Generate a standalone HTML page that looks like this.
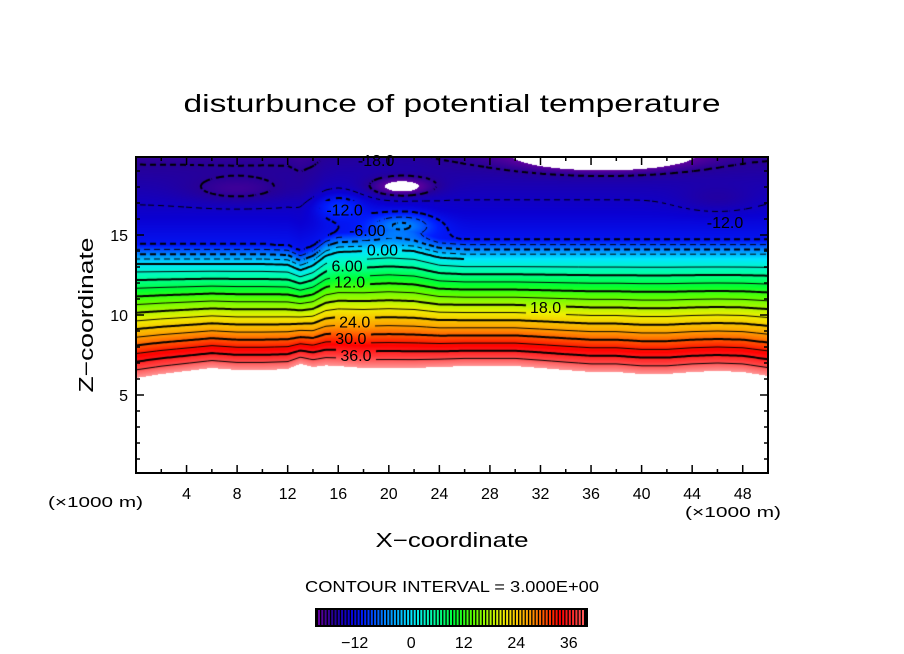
<!DOCTYPE html>
<html><head><meta charset="utf-8">
<style>
html,body{margin:0;padding:0;background:#fff;}
#wrap{position:relative;width:904px;height:654px;overflow:hidden;background:#fff;font-family:"Liberation Sans",sans-serif;}
#field{position:absolute;left:136px;top:157px;}
#ov{position:absolute;left:0;top:0;}
</style></head>
<body>
<div id="wrap">
<canvas id="field" width="632" height="316"></canvas>
<svg id="ov" width="904" height="654" xmlns="http://www.w3.org/2000/svg">
<text x="452" y="112" font-size="25" text-anchor="middle" textLength="537" lengthAdjust="spacingAndGlyphs">disturbunce of potential temperature</text>
<text transform="translate(93,315) rotate(-90)" font-size="20" text-anchor="middle" textLength="155" lengthAdjust="spacingAndGlyphs">Z−coordinate</text>
<text x="452" y="547" font-size="20" text-anchor="middle" textLength="153" lengthAdjust="spacingAndGlyphs">X−coordinate</text>
<text x="48" y="507" font-size="15" textLength="95" lengthAdjust="spacingAndGlyphs">(×1000 m)</text>
<text x="685" y="517" font-size="15" textLength="96" lengthAdjust="spacingAndGlyphs">(×1000 m)</text>
<text x="452" y="592" font-size="16" text-anchor="middle" textLength="294" lengthAdjust="spacingAndGlyphs">CONTOUR INTERVAL = 3.000E+00</text>
<g id="axes"></g>
<g id="labels"></g>
<g id="cbar"></g>
</svg>
</div>
<script>
// ---- data ----
const xNodes   = [0,2,4,6,8,10,12,13,14,15,16,18,20,22,24,26,28,30,32,34,36,38,40,42,44,46,48,50];
const groundZ  = [6.06,6.31,6.5,6.69,6.56,6.56,6.62,6.95,6.75,6.85,6.81,6.69,6.69,6.69,6.75,6.81,6.81,6.81,6.69,6.56,6.44,6.44,6.31,6.31,6.44,6.5,6.44,6.19];
const zeroZ    = [13.2,13.2,13.2,13.2,13.2,13.2,13.15,12.8,13.1,13.7,13.95,14.0,14.1,14.0,13.6,13.5,13.5,13.5,13.5,13.5,13.5,13.5,13.5,13.5,13.5,13.5,13.5,13.5];
const blobX    = [8,21,37,21,16,46];
const blobZ    = [17.8,18.0,19.9,15.6,16.8,17.2];
const blobAmp  = [-3,-7.5,-12,7,4,-2];
const blobSx   = [4,2.5,6,2.5,2,3];
const blobSz   = [0.8,0.6,0.8,0.7,0.8,0.8];
const cbarLevels = [-12,0,12,24,36];
const contourLevels = [-18,-15,-12,-9,-6,-3,0,3,6,9,12,15,18,21,24,27,30,33,36,39];
const labelText = ["-18.0","-12.0","-6.00","0.00","6.00","12.0","24.0","30.0","36.0","18.0","-12.0"];
const labelX    = [19.0,16.5,18.3,19.5,16.7,16.9,17.3,17.0,17.4,32.4,46.6];
const labelZ    = [19.7,16.6,15.3,14.1,13.1,12.1,9.6,8.55,7.5,10.5,15.8];
const xTickLabels = [4,8,12,16,20,24,28,32,36,40,44,48];
const yTickLabels = [5,10,15];

// ---- scales ----
const X0=136, XS=12.64, YB=475, ZS=16, PL=136, PT=157, PW=632, PH=316;
const sx = x => X0 + x*XS;
const sy = z => YB - z*ZS;
function interp(xa, ya, x){
  if(x<=xa[0]) return ya[0];
  for(let i=1;i<xa.length;i++){ if(x<=xa[i]){ const t=(x-xa[i-1])/(xa[i]-xa[i-1]); return ya[i-1]+t*(ya[i]-ya[i-1]); } }
  return ya[ya.length-1];
}
function field(x,z){
  const g=interp(xNodes,groundZ,x), z0=interp(xNodes,zeroZ,x);
  if(z<=z0) return 42*(z0-z)/(z0-g);
  const zm=z0+1.2;
  let t = z<zm ? -12*(z-z0)/1.2 : -12-1.2*(z-zm);
  const w=Math.min(1,(z-z0)/1.0);
  for(let i=0;i<blobX.length;i++){
    const dx=(x-blobX[i])/blobSx[i], dz=(z-blobZ[i])/blobSz[i];
    t += w*blobAmp[i]*Math.exp(-(dx*dx+dz*dz));
  }
  return t;
}
const cmV=[-22,-18,-14,-11,-6,0,5,10,14,21,27,31,34,38,42];
const cmC=[[112,0,160],[40,0,150],[10,0,210],[0,30,255],[0,130,255],[0,230,255],[0,255,170],[0,255,50],[90,255,0],[240,240,0],[255,160,0],[255,70,0],[255,0,0],[255,60,60],[255,150,150]];
function cmap(v){
  if(v<=cmV[0]) return cmC[0];
  for(let i=1;i<cmV.length;i++){ if(v<=cmV[i]){ const t=(v-cmV[i-1])/(cmV[i]-cmV[i-1]); return cmC[i].map((c,k)=>Math.round(cmC[i-1][k]+t*(c-cmC[i-1][k]))); } }
  return cmC[cmC.length-1];
}
// ---- fill ----
const cv=document.getElementById('field'), ctx=cv.getContext('2d');
const img=ctx.createImageData(PW,PH);
for(let py=0;py<PH;py++){
  const z=(YB-(PT+py+0.5))/ZS;
  for(let px=0;px<PW;px++){
    const x=(px+0.5)/XS;
    const v=field(x,z); const o=(py*PW+px)*4;
    if(v>42||v<-21){img.data[o]=255;img.data[o+1]=255;img.data[o+2]=255;}
    else{const c=cmap(v);img.data[o]=c[0];img.data[o+1]=c[1];img.data[o+2]=c[2];}
    img.data[o+3]=255;
  }
}
ctx.putImageData(img,0,0);
// ---- contours (marching squares) ----
const ST=2, nx=Math.ceil(PW/ST)+1, ny=Math.ceil(PH/ST)+1;
const grid=[];
for(let j=0;j<ny;j++){const row=[];for(let i=0;i<nx;i++){row.push(field(i*ST/XS,(YB-(PT+j*ST))/ZS));}grid.push(row);}
ctx.strokeStyle='#000';
contourLevels.forEach(L=>{
  ctx.lineWidth = (L%6===0)?2:1;
  ctx.beginPath();
  for(let j=0;j<ny-1;j++)for(let i=0;i<nx-1;i++){
    if(L<0 && ((i+j)%5)>=3) continue;
    const a=grid[j][i],b=grid[j][i+1],c=grid[j+1][i+1],d=grid[j+1][i];
    const pts=[];
    const e=(v1,v2,x1,y1,x2,y2)=>{ if((v1-L)*(v2-L)<0){const t=(L-v1)/(v2-v1);pts.push([x1+t*(x2-x1),y1+t*(y2-y1)]);} };
    const X=i*ST,Y=j*ST;
    e(a,b,X,Y,X+ST,Y); e(b,c,X+ST,Y,X+ST,Y+ST); e(c,d,X+ST,Y+ST,X,Y+ST); e(d,a,X,Y+ST,X,Y);
    for(let k=0;k+1<pts.length;k+=2){ctx.moveTo(pts[k][0],pts[k][1]);ctx.lineTo(pts[k+1][0],pts[k+1][1]);}
  }
  ctx.stroke();
});
// ---- labels ----
const NS='http://www.w3.org/2000/svg';
const lg=document.getElementById('labels');
for(let k=0;k<labelText.length;k++){
  const cx=sx(labelX[k]), cy=sy(labelZ[k]);
  const w=labelText[k].length*9+4;
  const rx=Math.max(0,Math.round(cx-w/2-PL)), ry=Math.max(0,Math.round(cy-8-PT));
  ctx.putImageData(img,0,0,rx,ry,w,16);
  const t=document.createElementNS(NS,'text');
  
  
  t.setAttribute('x',cx);t.setAttribute('y',cy+6);t.setAttribute('font-size','16');t.setAttribute('text-anchor','middle');
  t.textContent=labelText[k];lg.appendChild(t);
}
// ---- axes ----
const ax=document.getElementById('axes');
function line(x1,y1,x2,y2,w,name){
  const l=document.createElementNS(NS,'line');
  
  
  l.setAttribute('x1',x1);l.setAttribute('y1',y1);l.setAttribute('x2',x2);l.setAttribute('y2',y2);
  l.setAttribute('stroke','#000');l.setAttribute('stroke-width',w);ax.appendChild(l);
}
function txt(x,y,s,anchor,name){
  const t=document.createElementNS(NS,'text');
  
  
  t.setAttribute('x',x);t.setAttribute('y',y);t.setAttribute('font-size','16');t.setAttribute('text-anchor',anchor);
  t.textContent=s;ax.appendChild(t);
}
const fr=document.createElementNS(NS,'rect');


fr.setAttribute('x',136);fr.setAttribute('y',157);fr.setAttribute('width',632);fr.setAttribute('height',316);
fr.setAttribute('fill','none');fr.setAttribute('stroke','#000');fr.setAttribute('stroke-width','2');ax.appendChild(fr);
for(let x=2;x<50;x+=2){
  const L=(x%4===0)?8:4;
  line(sx(x),473,sx(x),473-L,1.5,'x-tick');
  line(sx(x),157,sx(x),157+L,1.5,'x-tick-top');
}
for(let z=1;z<20;z++){
  const L=(z%5===0)?8:4;
  line(136,sy(z),136+L,sy(z),1.5,'y-tick');
  line(768,sy(z),768-L,sy(z),1.5,'y-tick-right');
}
xTickLabels.forEach(v=>txt(sx(v),499,String(v),'middle','x-tick-label'));
yTickLabels.forEach(v=>txt(128,sy(v)+6,String(v),'end','y-tick-label'));
// ---- colorbar ----
const cb=document.getElementById('cbar');
const CB0=315, CB1=588, CBT=608, CBH=19, VMIN=-22, VMAX=40.4;
const cx2 = v => CB0 + (v-VMIN)/(VMAX-VMIN)*(CB1-CB0);
const bg=document.createElementNS(NS,'rect');


bg.setAttribute('x',CB0);bg.setAttribute('y',CBT);bg.setAttribute('width',CB1-CB0);bg.setAttribute('height',CBH);bg.setAttribute('fill','#000');
cb.appendChild(bg);
for(let px=CB0+3;px<CB1-3;px+=3.3){
  const v=VMIN+(px+1-CB0)/(CB1-CB0)*(VMAX-VMIN);const c=cmap(v);
  const r=document.createElementNS(NS,'rect');
  
  
  r.setAttribute('x',px);r.setAttribute('y',CBT+2);r.setAttribute('width',2);r.setAttribute('height',CBH-4);
  r.setAttribute('fill','rgb('+c.join(',')+')');cb.appendChild(r);
}
cbarLevels.forEach(v=>{
  const t=document.createElementNS(NS,'text');
  
  
  t.setAttribute('x',cx2(v)-(v<0?4:0));t.setAttribute('y',648);t.setAttribute('font-size','16');t.setAttribute('text-anchor','middle');
  t.textContent=(v<0?'−':'')+Math.abs(v);cb.appendChild(t);
});
</script>
</body></html>
